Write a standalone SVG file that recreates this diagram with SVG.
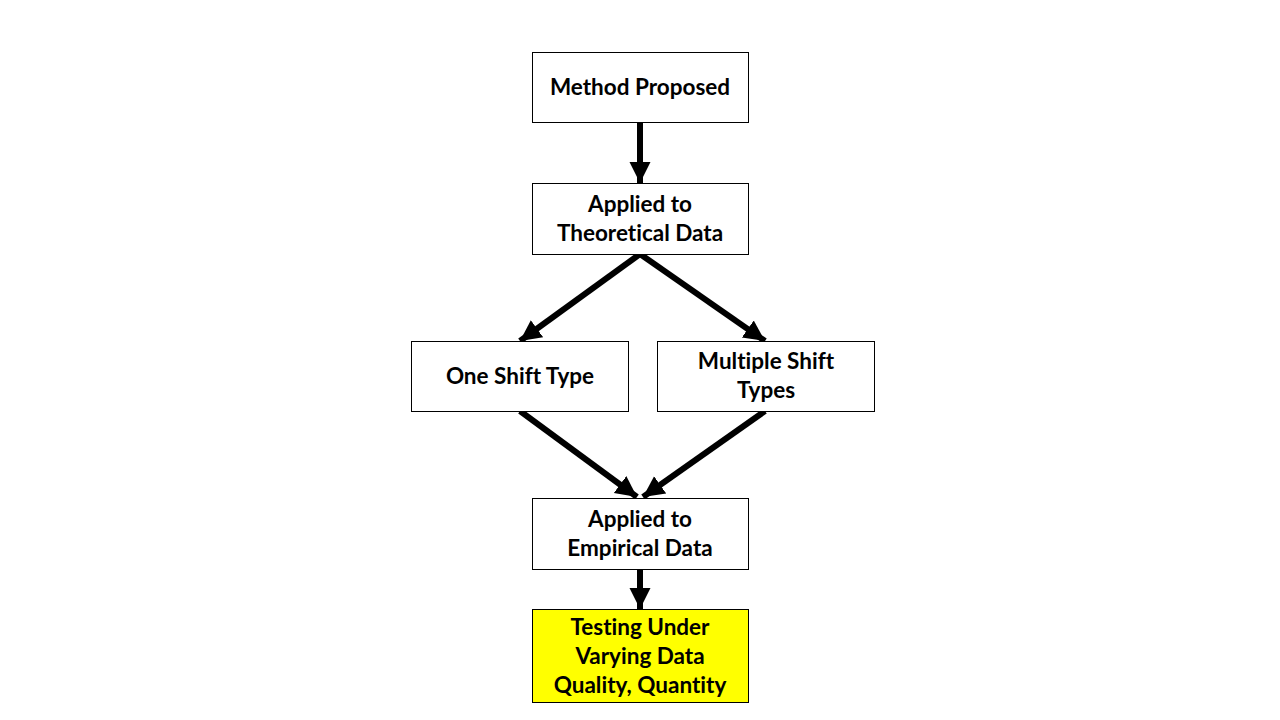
<svg xmlns="http://www.w3.org/2000/svg" width="1280" height="720" viewBox="0 0 1280 720">
<style>
.box{fill:#fff;stroke:#000;stroke-width:1}
.hl{fill:#ffff00}
.t{font-family:Lato,"Open Sans","Liberation Sans",sans-serif;font-weight:bold;font-size:22.5px;fill:#000;text-anchor:middle;font-variant-ligatures:none}
.c{stroke:#000;stroke-width:6;fill:none;marker-end:url(#ah)}
</style>
<defs>
<marker id="ah" markerUnits="userSpaceOnUse" markerWidth="24" markerHeight="24" viewBox="0 0 24 24" refX="21" refY="12" orient="auto">
<path d="M0,1.5 L21,12 L0,22.5 Z" fill="#000"/>
</marker>
</defs>
<rect width="1280" height="720" fill="#fff"/>
<g id="connectors">
<line class="c" x1="640" y1="122" x2="640" y2="183"/>
<line class="c" x1="640" y1="254" x2="520" y2="341"/>
<line class="c" x1="640" y1="254" x2="765" y2="341"/>
<line class="c" x1="520" y1="411" x2="637" y2="497"/>
<line class="c" x1="765" y1="411" x2="643" y2="497"/>
<line class="c" x1="640" y1="569" x2="640" y2="609"/>
</g>
<g id="n1"><rect class="box" x="532.5" y="52.5" width="216" height="70"/><text class="t" x="640" y="95">Method Proposed</text></g>
<g id="n2"><rect class="box" x="532.5" y="183.5" width="216" height="71"/><text class="t" x="640" y="212">Applied to</text><text class="t" x="640" y="241">Theoretical Data</text></g>
<g id="n3"><rect class="box" x="411.5" y="341.5" width="217" height="70"/><text class="t" x="520" y="384">One Shift Type</text></g>
<g id="n4"><rect class="box" x="657.5" y="341.5" width="217" height="70"/><text class="t" x="766" y="369">Multiple Shift</text><text class="t" x="766" y="398">Types</text></g>
<g id="n5"><rect class="box" x="532.5" y="498.5" width="216" height="71"/><text class="t" x="640" y="527">Applied to</text><text class="t" x="640" y="556">Empirical Data</text></g>
<g id="n6"><rect class="box hl" x="532.5" y="609.5" width="216" height="93"/><text class="t" x="640" y="635">Testing Under</text><text class="t" x="640" y="664">Varying Data</text><text class="t" x="640" y="693">Quality, Quantity</text></g>
</svg>
